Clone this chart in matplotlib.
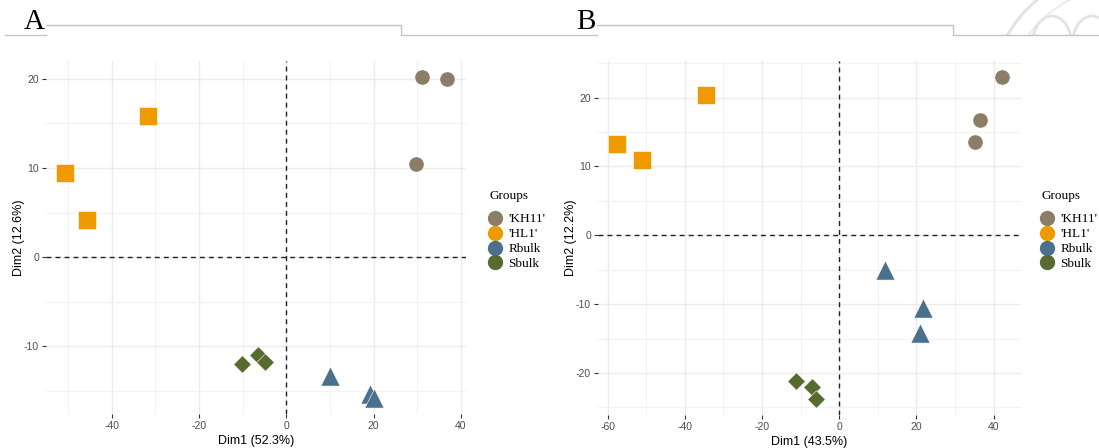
import matplotlib.pyplot as plt
from matplotlib.lines import Line2D
from matplotlib.patches import Circle, Ellipse

groups = ["'KH11'", "'HL1'", "Rbulk", "Sbulk"]
colors = ["#8B7E66", "#EE9A00", "#4A708B", "#556B2F"]
markers = ["o", "s", "^", "D"]
sizes = [120, 150, 190, 80]

# PCA scores, panel A
a_x = {
    "'KH11'": [31.1, 36.8, 29.7],
    "'HL1'": [-31.8, -50.7, -45.7],
    "Rbulk": [10.1, 19.2, 20.1],
    "Sbulk": [-10.1, -6.4, -5.0],
}
a_y = {
    "'KH11'": [20.2, 20.0, 10.4],
    "'HL1'": [15.8, 9.4, 4.2],
    "Rbulk": [-13.3, -15.4, -15.8],
    "Sbulk": [-12.0, -11.0, -11.8],
}
a_xlabel = "Dim1 (52.3%)"
a_ylabel = "Dim2 (12.6%)"

# PCA scores, panel B
b_x = {
    "'KH11'": [42.1, 36.6, 35.3],
    "'HL1'": [-34.5, -57.5, -51.2],
    "Rbulk": [11.8, 21.7, 20.9],
    "Sbulk": [-11.2, -7.1, -6.0],
}
b_y = {
    "'KH11'": [23.0, 16.8, 13.5],
    "'HL1'": [20.4, 13.3, 10.9],
    "Rbulk": [-5.1, -10.6, -14.2],
    "Sbulk": [-21.2, -22.0, -23.8],
}
b_xlabel = "Dim1 (43.5%)"
b_ylabel = "Dim2 (12.2%)"

W, H = 1099, 448
SANS = "Liberation Sans"
SERIF = "Liberation Serif"


def px_axes(fig, left, top, right, bottom):
    return fig.add_axes([left / W, 1 - bottom / H, (right - left) / W, (bottom - top) / H])


def draw_pca(ax, xs, ys, xlabel, ylabel, xlim, ylim, xmajor, xminor, ymajor, yminor):
    ax.set_xlim(*xlim)
    ax.set_ylim(*ylim)
    ax.set_xticks(xmajor)
    ax.set_xticks(xminor, minor=True)
    ax.set_yticks(ymajor)
    ax.set_yticks(yminor, minor=True)
    ax.set_xticklabels([str(v) for v in xmajor])
    ax.set_yticklabels([str(v) for v in ymajor])
    ax.grid(True, which='major', color='#EBEBEB', linewidth=1.0)
    ax.grid(True, which='minor', color='#F2F2F2', linewidth=0.8)
    ax.set_axisbelow(True)
    for s in ax.spines.values():
        s.set_visible(False)
    ax.tick_params(which='major', length=3, width=0.8, color='#333333',
                   labelsize=7.5, labelcolor='#4D4D4D', pad=2)
    ax.tick_params(which='minor', length=0)
    for lab in ax.get_xticklabels() + ax.get_yticklabels():
        lab.set_family(SANS)
    ax.axvline(0, color='#222222', linestyle=(0, (3.5, 3)), linewidth=1.0, zorder=1)
    ax.axhline(0, color='#222222', linestyle=(0, (3.5, 3)), linewidth=1.0, zorder=1)
    for g, c, m, s in zip(groups, colors, markers, sizes):
        ax.scatter(xs[g], ys[g], s=s, c=c, marker=m, edgecolors='white',
                   linewidths=0.4, zorder=3, clip_on=False)
    ax.set_xlabel(xlabel, family=SANS, fontsize=9, labelpad=3)
    ax.set_ylabel(ylabel, family=SANS, fontsize=9, labelpad=-1)


def draw_legend(fig, x0, y0):
    fig.text(x0 / W, 1 - y0 / H, "Groups", family=SERIF, fontsize=9.5,
             ha='left', va='center')
    handles = [Line2D([], [], linestyle='none', marker='o', markersize=10,
                      markerfacecolor=c, markeredgecolor=c) for c in colors]
    fig.legend(handles, groups, loc='upper left',
               bbox_to_anchor=((x0 - 12) / W, 1 - (y0 + 8) / H),
               frameon=False, prop={'family': SERIF, 'size': 9.5},
               handlelength=1.2, handletextpad=0.4, labelspacing=0.2,
               borderpad=0.2)


fig = plt.figure(figsize=(W / 100, H / 100), dpi=100)

# faint university seal behind the header, clipped at the rule
head = fig.add_axes([0, 1 - 35 / H, 1, 35 / H])
head.set_xlim(0, W)
head.set_ylim(35, 0)
head.axis('off')
seal = '#E3E3E3'
head.add_patch(Circle((1120, 100), 130, fill=False, edgecolor=seal, linewidth=2.2))
head.add_patch(Circle((1120, 100), 112, fill=False, edgecolor='#ECECEC', linewidth=1.5))
head.add_patch(Ellipse((1052, 42), 38, 52, fill=False, edgecolor=seal, linewidth=2.0))
head.add_patch(Ellipse((1092, 42), 38, 52, fill=False, edgecolor=seal, linewidth=2.0))

# document header: panel letters and rule
fig.text(24 / W, 1 - 22 / H, "A", family=SERIF, fontsize=21, ha='left', va='center')
fig.text(576 / W, 1 - 22 / H, "B", family=SERIF, fontsize=21, ha='left', va='center')
rule = '#C4C4C4'
for xs_, ys_ in [([5, 46], [35, 35]), ([46, 401, 401, 597], [25.5, 25.5, 35, 35]),
                 ([597, 953, 953, 1099], [25.5, 25.5, 35, 35])]:
    fig.add_artist(Line2D([x / W for x in xs_], [1 - y / H for y in ys_],
                          color=rule, linewidth=1.0))

ax_a = px_axes(fig, 46, 61, 466, 414)
draw_pca(ax_a, a_x, a_y, a_xlabel, a_ylabel, (-55.1, 41.2), (-17.6, 22.0),
         [-40, -20, 0, 20, 40], [-50, -30, -10, 10, 30],
         [-10, 0, 10, 20], [-15, -5, 5, 15])
draw_legend(fig, 490, 196)

ax_b = px_axes(fig, 598, 61, 1021, 415)
draw_pca(ax_b, b_x, b_y, b_xlabel, b_ylabel, (-62.5, 47.1), (-26.1, 25.3),
         [-60, -40, -20, 0, 20, 40], [-50, -30, -10, 10, 30],
         [-20, -10, 0, 10, 20], [-25, -15, -5, 5, 15, 25])
draw_legend(fig, 1042, 196)

fig.savefig('out.png', dpi=100)
